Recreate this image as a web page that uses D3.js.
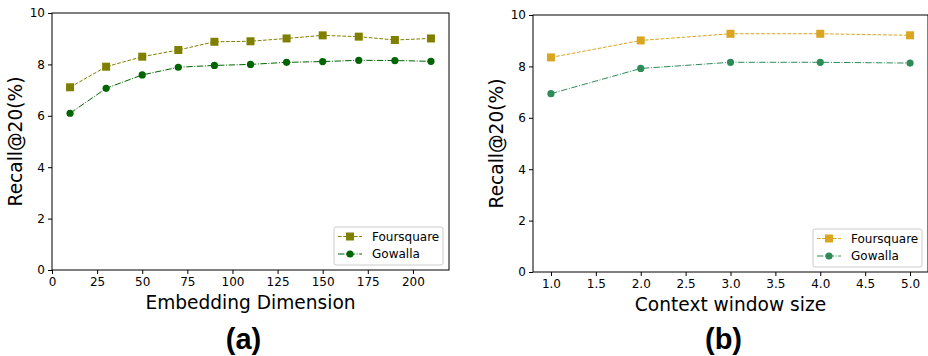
<!DOCTYPE html>
<html>
<head>
<meta charset="utf-8">
<script src="https://cdn.jsdelivr.net/npm/d3@7"></script>
<style>
  body { margin: 0; background: #fff; }
  svg { display: block; }
  text { font-family: 'DejaVu Sans', sans-serif; fill: #000; }
</style>
</head>
<body>
<div id="chart"></div>
<script>
// ─── Data ──────────────────────────────────────────────────────────────────
const embedDims = [10, 30, 50, 70, 90, 110, 130, 150, 170, 190, 210]
const embedFoursquare = [7.11, 7.91, 8.30, 8.56, 8.88, 8.90, 9.01, 9.13, 9.08, 8.95, 9.01]
const embedGowalla = [6.10, 7.07, 7.59, 7.89, 7.96, 8.00, 8.08, 8.11, 8.16, 8.15, 8.12]

const windowSizes = [1.0, 2.0, 3.0, 4.0, 5.0]
const windowFoursquare = [8.35, 9.01, 9.27, 9.27, 9.21]
const windowGowalla = [6.94, 7.92, 8.16, 8.16, 8.13]

const embedTicks = [0, 25, 50, 75, 100, 125, 150, 175, 200]
const windowTicks = [1.0, 1.5, 2.0, 2.5, 3.0, 3.5, 4.0, 4.5, 5.0]
const recallTicks = [0, 2, 4, 6, 8, 10]
const seriesNames = ['Foursquare', 'Gowalla']

const W = 928, H = 356

const svg = d3.select('#chart').append('svg')
  .attr('width', W).attr('height', H)

// ─── Panel builder ─────────────────────────────────────────────────────────
function panel(opts) {
  const { left, right, top, bottom, xDomain, xTicks, xFmt, xs, f, g, colors, xLabel, ylabelX, tag } = opts
  const x = d3.scaleLinear().domain(xDomain).range([left, right])
  const y = d3.scaleLinear().domain([0, 10]).range([bottom, top])
  const G = svg.append('g')

  // axes
  const xAxis = G.append('g').attr('transform', `translate(0,${bottom})`)
    .call(d3.axisBottom(x).tickValues(xTicks).tickFormat(xFmt).tickSize(4).tickPadding(3))
  const yAxis = G.append('g').attr('transform', `translate(${left},0)`)
    .call(d3.axisLeft(y).tickValues(recallTicks).tickSize(4).tickPadding(3))
  ;[xAxis, yAxis].forEach(a => {
    a.select('.domain').remove()
    a.selectAll('line').attr('stroke', '#000').attr('stroke-width', 1)
    a.selectAll('text').attr('font-size', 12).attr('fill', '#222')
      .style('font-family', "'DejaVu Sans', sans-serif")
  })

  // frame
  G.append('rect')
    .attr('x', left).attr('y', top)
    .attr('width', right - left).attr('height', bottom - top)
    .attr('fill', 'none').attr('stroke', '#000').attr('stroke-width', 1)

  const line = d3.line().x(d => x(d[0])).y(d => y(d[1]))
  const fData = xs.map((v, i) => [v, f[i]])
  const gData = xs.map((v, i) => [v, g[i]])

  G.append('path').datum(fData).attr('d', line)
    .attr('fill', 'none').attr('stroke', colors[0]).attr('stroke-width', 1)
    .attr('stroke-dasharray', '3.7,1.6')
  G.append('path').datum(gData).attr('d', line)
    .attr('fill', 'none').attr('stroke', colors[1]).attr('stroke-width', 1)
    .attr('stroke-dasharray', '6.4,1.6,1,1.6')

  G.selectAll('rect.sq').data(fData).join('rect').attr('class', 'sq')
    .attr('x', d => x(d[0]) - 4).attr('y', d => y(d[1]) - 4)
    .attr('width', 8).attr('height', 8).attr('fill', colors[0])
  G.selectAll('circle.ci').data(gData).join('circle').attr('class', 'ci')
    .attr('cx', d => x(d[0])).attr('cy', d => y(d[1])).attr('r', 3.6)
    .attr('fill', colors[1])

  // labels
  G.append('text').attr('x', (left + right) / 2).attr('y', bottom + 39)
    .attr('text-anchor', 'middle').attr('font-size', 18.6).text(xLabel)
  G.append('text')
    .attr('transform', `translate(${ylabelX},${(top + bottom) / 2}) rotate(-90)`)
    .attr('text-anchor', 'middle').attr('dy', '0.35em').attr('font-size', 18.6)
    .text('Recall@20(%)')
  G.append('text').attr('x', (left + right) / 2 - 7).attr('y', 349)
    .attr('text-anchor', 'middle').attr('font-size', 29).attr('font-weight', 'bold')
    .style('font-family', "'Liberation Sans', Arial, sans-serif")
    .text(tag)

  // legend
  const lx = right - 115, ly = bottom - 43
  G.append('rect').attr('x', lx).attr('y', ly).attr('width', 109).attr('height', 38)
    .attr('rx', 2).attr('fill', '#fff').attr('stroke', '#ccc').attr('stroke-width', 1)
  seriesNames.forEach((name, i) => {
    const yy = ly + 9.5 + i * 17.5
    G.append('line').attr('x1', lx + 4).attr('x2', lx + 28).attr('y1', yy).attr('y2', yy)
      .attr('stroke', colors[i]).attr('stroke-width', 1)
      .attr('stroke-dasharray', i === 0 ? '3.7,1.6' : '6.4,1.6,1,1.6')
    if (i === 0) {
      G.append('rect').attr('x', lx + 12).attr('y', yy - 4).attr('width', 8).attr('height', 8)
        .attr('fill', colors[i])
    } else {
      G.append('circle').attr('cx', lx + 16).attr('cy', yy).attr('r', 3.6).attr('fill', colors[i])
    }
    G.append('text').attr('x', lx + 38).attr('y', yy).attr('dy', '0.35em')
      .attr('font-size', 12).attr('fill', '#222').text(name)
  })
}

panel({
  left: 52, right: 449, top: 13, bottom: 270,
  xDomain: [0, 220], xTicks: embedTicks, xFmt: d3.format('d'),
  xs: embedDims, f: embedFoursquare, g: embedGowalla,
  colors: ['#808000', '#006400'],
  xLabel: 'Embedding Dimension', ylabelX: 15, tag: '(a)'
})

panel({
  left: 533, right: 928, top: 15, bottom: 272,
  xDomain: [0.8, 5.2], xTicks: windowTicks, xFmt: d3.format('.1f'),
  xs: windowSizes, f: windowFoursquare, g: windowGowalla,
  colors: ['#DAA520', '#2E8B57'],
  xLabel: 'Context window size', ylabelX: 496, tag: '(b)'
})
</script>
</body>
</html>
